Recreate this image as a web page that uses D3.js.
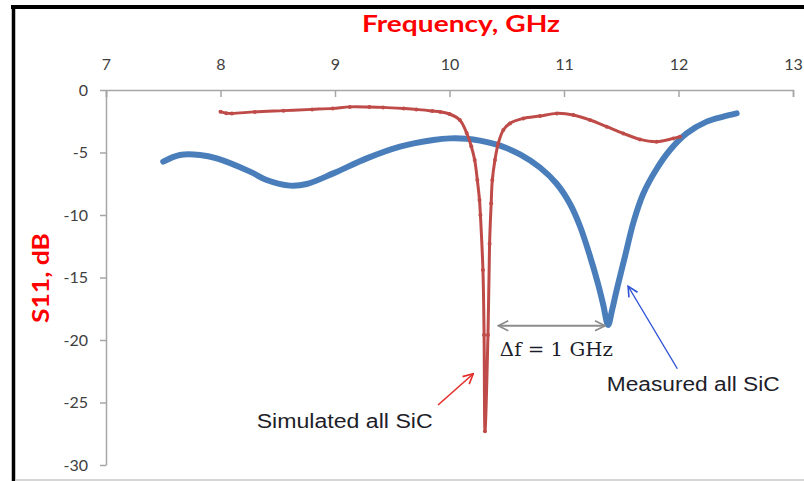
<!DOCTYPE html>
<html>
<head>
<meta charset="utf-8">
<script src="https://cdn.jsdelivr.net/npm/d3@7"></script>
<style>
  body { margin: 0; background: #fff; }
  svg { display: block; }
</style>
</head>
<body>
<div id="chart"></div>
<script>
// data (frequency in GHz, S11 in dB)
const simFreq = [8.00, 8.05, 8.10, 8.30, 8.55, 8.80, 8.98, 9.13, 9.30, 9.42, 9.60, 9.71, 9.85, 9.92, 10.00,
  10.09, 10.15, 10.19, 10.22, 10.243, 10.262, 10.270, 10.292, 10.302, 10.310,
  10.336, 10.350, 10.364, 10.374, 10.397, 10.426, 10.470, 10.528, 10.644, 10.790, 10.936,
  11.082, 11.227, 11.373, 11.518, 11.664, 11.810, 11.955, 12.013];
const simS11 = [-1.73, -1.85, -1.87, -1.75, -1.65, -1.55, -1.47, -1.35, -1.36, -1.39, -1.48, -1.55, -1.68, -1.75, -1.92,
  -2.4, -3.44, -4.5, -5.6, -7.2, -8.8, -10.0, -14.4, -19.6, -27.3,
  -19.6, -12.3, -9.07, -7.2, -5.6, -4.27, -3.2, -2.67, -2.27, -2.08, -1.87,
  -2.0, -2.4, -2.93, -3.47, -3.95, -4.13, -3.87, -3.73];

const measFreq = [7.50, 7.646, 7.821, 7.967, 8.258, 8.403, 8.607, 8.753, 8.985, 9.277, 9.568, 9.859, 10.004,
  10.15, 10.266, 10.441, 10.616, 10.79, 10.936, 11.052, 11.140, 11.227, 11.300, 11.343, 11.385,
  11.42, 11.460, 11.533, 11.606, 11.692, 11.810, 11.926, 12.071, 12.246, 12.391, 12.508];
const measS11 = [-5.73, -5.2, -5.2, -5.47, -6.53, -7.2, -7.65, -7.52, -6.67, -5.47, -4.53, -4.0, -3.87,
  -3.9, -4.05, -4.45, -5.15, -6.2, -7.5, -9.1, -10.9, -13.3, -15.6, -17.2, -18.8,
  -17.6, -16.0, -13.3, -10.6, -8.3, -6.3, -4.8, -3.47, -2.53, -2.13, -1.87];

const freqTicks = [7, 8, 9, 10, 11, 12, 13];
const dbTicks = [0, -5, -10, -15, -20, -25, -30];

const width = 804, height = 481;

const x = d3.scaleLinear().domain([7, 13]).range([106, 793]);
const y = d3.scaleLinear().domain([0, -30]).range([90, 465]);

const svg = d3.select('#chart').append('svg')
    .attr('width', width)
    .attr('height', height);

// frame of the pasted excel chart
svg.append('line').attr('x1', 11).attr('x2', width).attr('y1', 7).attr('y2', 7)
    .attr('stroke', '#000').attr('stroke-width', 4);
svg.append('line').attr('x1', 13.5).attr('x2', 13.5).attr('y1', 5).attr('y2', height)
    .attr('stroke', '#000').attr('stroke-width', 3.5);
svg.append('line').attr('x1', 15).attr('x2', width).attr('y1', 480).attr('y2', 480)
    .attr('stroke', '#c8c8c8').attr('stroke-width', 1.5);

const tickFont = 'Lato, "Open Sans", sans-serif';

// top frequency axis, ticks pointing down into the plot
const xAxis = svg.append('g')
    .attr('transform', 'translate(0,' + y(0) + ')')
    .call(d3.axisTop(x).tickValues(freqTicks).tickSizeInner(-7).tickSizeOuter(-7)
        .tickPadding(20).tickFormat(d => String(d)));

const yAxis = svg.append('g')
    .attr('transform', 'translate(' + x(7) + ',0)')
    .call(d3.axisLeft(y).tickValues(dbTicks).tickSize(6).tickSizeOuter(0)
        .tickPadding(12).tickFormat(d => String(d)));

[xAxis, yAxis].forEach(function(g) {
    g.select('.domain').attr('stroke', '#a6a6a6').attr('stroke-width', 1.5);
    g.selectAll('.tick line').attr('stroke', '#a6a6a6').attr('stroke-width', 1.5);
    g.selectAll('.tick text')
        .attr('fill', '#404040')
        .style('font-family', tickFont)
        .style('font-size', '16px');
});

// axis titles
svg.append('text')
    .attr('x', 362).attr('y', 32)
    .attr('textLength', 198).attr('lengthAdjust', 'spacingAndGlyphs')
    .style('font-family', tickFont).style('font-weight', 'bold').style('font-size', '23px')
    .attr('fill', '#ff0000')
    .text('Frequency, GHz');

svg.append('text')
    .attr('transform', 'translate(49,323) rotate(-90)')
    .attr('textLength', 90).attr('lengthAdjust', 'spacingAndGlyphs')
    .style('font-family', tickFont).style('font-weight', 'bold').style('font-size', '23px')
    .attr('fill', '#ff0000')
    .text('S11, dB');

// curves
const sim = simFreq.map((f, i) => ({f: f, v: simS11[i]}));
const meas = measFreq.map((f, i) => ({f: f, v: measS11[i]}));

const line = d3.line()
    .x(d => x(d.f))
    .y(d => y(d.v))
    .curve(d3.curveCatmullRom.alpha(0.5));

svg.append('path')
    .datum(meas)
    .attr('d', line)
    .attr('fill', 'none')
    .attr('stroke', '#4a7ebb')
    .attr('stroke-width', 6)
    .attr('stroke-linecap', 'round')
    .attr('stroke-linejoin', 'round');

svg.append('path')
    .datum(sim)
    .attr('d', line)
    .attr('fill', 'none')
    .attr('stroke', '#be4b48')
    .attr('stroke-width', 3)
    .attr('stroke-linejoin', 'round');

svg.append('g').selectAll('circle')
    .data(sim)
    .enter().append('circle')
    .attr('cx', d => x(d.f))
    .attr('cy', d => y(d.v))
    .attr('r', 2)
    .attr('fill', '#be4b48');

// annotations (positions in data units)
const defs = svg.append('defs');
function chevron(id, color) {
    defs.append('marker')
        .attr('id', id)
        .attr('viewBox', '0 -6 12 12')
        .attr('refX', 11).attr('refY', 0)
        .attr('markerWidth', 12).attr('markerHeight', 12)
        .attr('markerUnits', 'userSpaceOnUse')
        .attr('orient', 'auto-start-reverse')
        .append('path')
        .attr('d', 'M1,-5 L11,0 L1,5')
        .attr('fill', 'none')
        .attr('stroke', color)
        .attr('stroke-width', 1.6);
}
chevron('arrRed', '#e3302c');
chevron('arrBlue', '#2f52d6');
chevron('arrGray', '#8c8c8c');

svg.append('line')
    .attr('x1', x(9.90)).attr('y1', y(-25.2))
    .attr('x2', x(10.208)).attr('y2', y(-22.7))
    .attr('stroke', '#e3302c').attr('stroke-width', 1.6)
    .attr('marker-end', 'url(#arrRed)');

svg.append('line')
    .attr('x1', x(11.99)).attr('y1', y(-22.3))
    .attr('x2', x(11.56)).attr('y2', y(-15.7))
    .attr('stroke', '#2f52d6').attr('stroke-width', 1.4)
    .attr('marker-end', 'url(#arrBlue)');

svg.append('line')
    .attr('x1', x(10.426)).attr('y1', y(-18.86))
    .attr('x2', x(11.358)).attr('y2', y(-18.86))
    .attr('stroke', '#8c8c8c').attr('stroke-width', 2)
    .attr('marker-start', 'url(#arrGray)')
    .attr('marker-end', 'url(#arrGray)');

svg.append('text')
    .attr('x', x(8.316)).attr('y', y(-27.04))
    .attr('textLength', 176).attr('lengthAdjust', 'spacingAndGlyphs')
    .style('font-family', '"Liberation Sans", Arial, sans-serif').style('font-size', '20px')
    .attr('fill', '#1e1e2a')
    .text('Simulated  all SiC');

svg.append('text')
    .attr('x', x(11.373)).attr('y', y(-24.1))
    .attr('textLength', 173).attr('lengthAdjust', 'spacingAndGlyphs')
    .style('font-family', '"Liberation Sans", Arial, sans-serif').style('font-size', '20px')
    .attr('fill', '#1e1e2a')
    .text('Measured all SiC');

svg.append('text')
    .attr('x', x(10.44)).attr('y', y(-21.26))
    .attr('textLength', 113).attr('lengthAdjust', 'spacingAndGlyphs')
    .style('font-family', '"DejaVu Serif", "Liberation Serif", serif').style('font-size', '19px')
    .attr('fill', '#1e1e2a')
    .text('Δf = 1 GHz');
</script>
</body>
</html>
